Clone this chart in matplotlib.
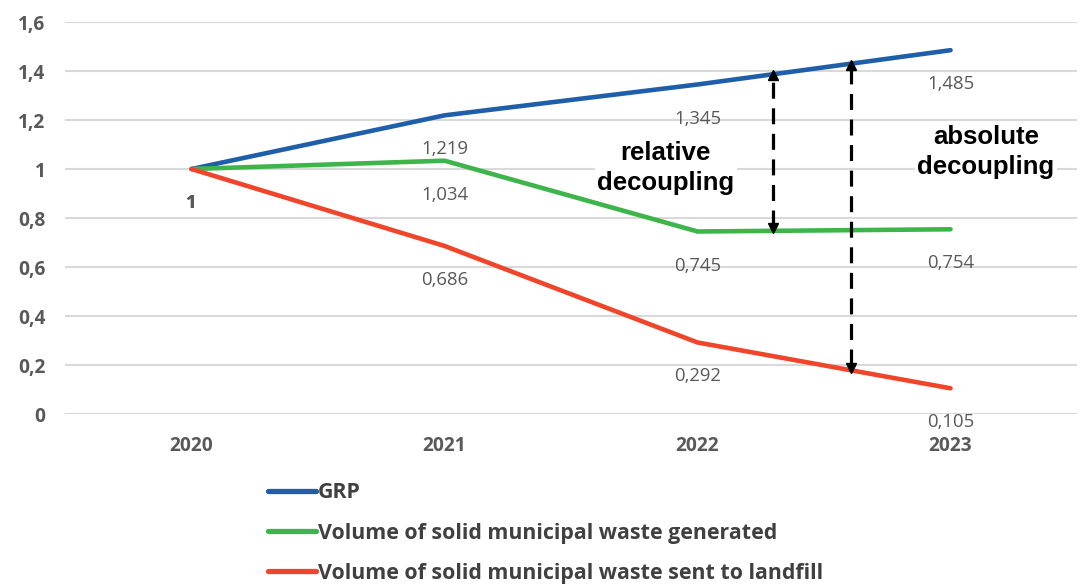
import numpy as np
import matplotlib.pyplot as plt

# Данные (индекс, 2020 = 1)
years = ['2020', '2021', '2022', '2023']
grp = [1.0, 1.219, 1.345, 1.485]
waste_generated = [1.0, 1.034, 0.745, 0.754]
waste_landfill = [1.0, 0.686, 0.292, 0.105]
series_names = ['GRP',
                'Volume of solid municipal waste generated',
                'Volume of solid municipal waste sent to landfill']
series_colors = ['#1F5FAA', '#3DB54A', '#F0452A']

# позиции стрелок между 2022 и 2023
arrow_rel_x = 2.30
arrow_abs_x = 2.607

plt.rcParams['font.family'] = ['Open Sans', 'DejaVu Sans']

fig = plt.figure(figsize=(10.83, 5.87), dpi=100)
ax = fig.add_axes([0.060, 0.2947, 0.9345, 0.6678])

x = np.arange(len(years))
all_series = [grp, waste_generated, waste_landfill]
for vals, name, col in zip(all_series, series_names, series_colors):
    ax.plot(x, vals, color=col, lw=3.3, label=name, solid_capstyle='round',
            solid_joinstyle='round', zorder=3)
    for xi, v in zip(x, vals):
        txt = f'{v:g}'.replace('.', ',')
        bold = 'bold' if txt == '1' else 'normal'
        ax.annotate(txt, (xi, v), xytext=(0, -24.5), textcoords='offset points',
                    ha='center', va='center', fontsize=13.3, color='#595959',
                    fontweight=bold, zorder=4)

# стрелки decoupling
def dashed_arrow(xa, top_series, bottom_series):
    y_top = np.interp(xa, x, top_series)
    y_bot = np.interp(xa, x, bottom_series)
    ax.plot([xa, xa], [y_bot + 0.02, y_top - 0.02], color='black', lw=2.3,
            dashes=(5, 3), zorder=5)
    ax.plot(xa, y_top - 0.005, marker='^', color='black', ms=7, zorder=5)
    ax.plot(xa, y_bot + 0.01, marker='v', color='black', ms=7, zorder=5)

dashed_arrow(arrow_rel_x, grp, waste_generated)
dashed_arrow(arrow_abs_x, grp, waste_landfill)

ax.text(1.875, 1.005, 'relative\ndecoupling', ha='center', va='center',
        fontsize=18.5, fontweight='bold', family='Liberation Sans',
        linespacing=1.3, color='black', zorder=6,
        bbox=dict(facecolor='white', edgecolor='none', pad=2))
ax.text(3.14, 1.07, 'absolute\ndecoupling', ha='center', va='center',
        fontsize=18.5, fontweight='bold', family='Liberation Sans',
        linespacing=1.3, color='black', zorder=6,
        bbox=dict(facecolor='white', edgecolor='none', pad=2))

ax.set_xlim(-0.5, 3.5)
ax.set_ylim(0, 1.6)
ax.set_yticks(np.arange(0, 1.61, 0.2))
ax.set_yticklabels([f'{t:g}'.replace('.', ',') for t in np.arange(0, 1.61, 0.2)])
ax.set_xticks(x)
ax.set_xticklabels(years)
ax.tick_params(length=0, labelsize=13.8, labelcolor='#595959')
ax.tick_params(axis='y', pad=14)
ax.tick_params(axis='x', pad=16)
for lab in ax.get_xticklabels() + ax.get_yticklabels():
    lab.set_fontweight('bold')
ax.grid(axis='y', color='#D9D9D9', lw=1.5)
ax.set_axisbelow(True)
for s in ax.spines.values():
    s.set_visible(False)

leg = fig.legend(loc='upper left', bbox_to_anchor=(0.240, 0.193), frameon=False,
                 fontsize=15.4, handlelength=2.2, handletextpad=0.12,
                 labelspacing=0.9, borderaxespad=0)
for t in leg.get_texts():
    t.set_color('#404040')
    t.set_fontweight('bold')
for h in leg.legend_handles:
    h.set_linewidth(3.8)

fig.savefig('out.png', dpi=100)
